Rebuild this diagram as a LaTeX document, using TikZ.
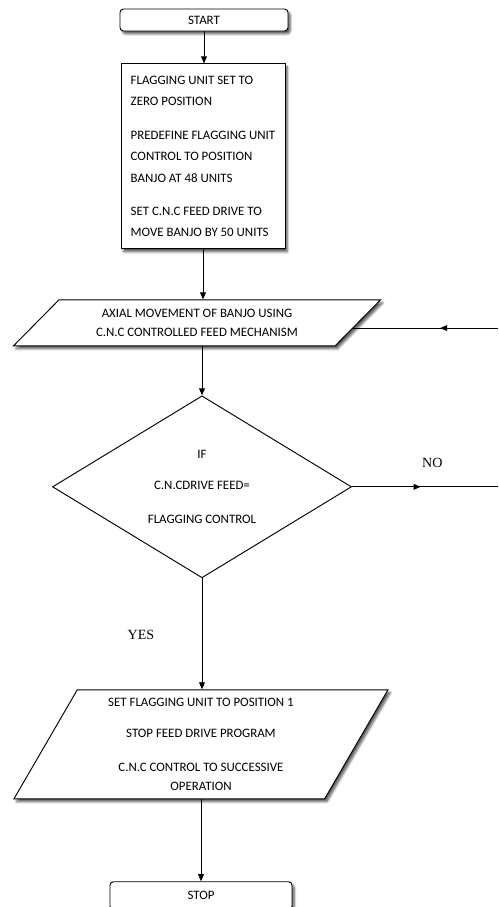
\documentclass[tikz,border=0pt]{standalone}
\usepackage{fontspec}
\setmainfont{Carlito}
\newfontfamily\tmsfont{Liberation Serif}
\usetikzlibrary{arrows.meta,positioning,calc,shapes.geometric,shadows.blur,decorations.markings}

\begin{document}
\begin{tikzpicture}[font=\fontsize{11}{13}\selectfont,
    shade/.style={blur shadow={shadow xshift=2pt,shadow yshift=-2.5pt,shadow blur steps=6,shadow opacity=65}},
    term/.style={draw,fill=white,rounded corners=3pt,line width=0.8pt,
      minimum width=5.04cm,minimum height=0.66cm,inner sep=1pt,shade},
    proc/.style={draw,fill=white,line width=0.8pt,minimum width=4.92cm,
      minimum height=5.55cm,align=left,font=\fontsize{11}{18.4}\selectfont,shade},
    io/.style={trapezium,trapezium stretches body,draw,fill=white,line width=0.8pt,
      align=center,inner sep=0pt,shade},
    ask/.style={diamond,draw,fill=white,line width=0.8pt,minimum width=8.97cm,
      minimum height=5.46cm,inner sep=0pt,align=center},
    lbl/.style={font=\tmsfont\fontsize{12}{14}\selectfont},
    midarrow/.style={decoration={markings,mark=at position #1 with {\arrow{Triangle[length=6pt,width=5pt]}}},
      postaction={decorate}},
    >={Triangle[length=6pt,width=5pt]}]
  \useasboundingbox (0,0) rectangle (14.94,-27.21);
  \coordinate (rim) at (14.94,0);

  \node[term] (start) at (6.12,-0.6) {START};
  \node[proc, below=0.96cm of start, xshift=-0.03cm] (setup) {FLAGGING UNIT SET TO\\ZERO POSITION\\[10pt]
    PREDEFINE FLAGGING UNIT\\CONTROL TO POSITION\\BANJO AT 48 UNITS\\[10pt]
    SET C.N.C FEED DRIVE TO\\MOVE BANJO BY 50 UNITS};
  \node[io, trapezium left angle=32, trapezium right angle=148, minimum width=11.01cm,
    minimum height=1.38cm, font=\fontsize{11}{17}\selectfont,
    below=1.5cm of setup, xshift=-0.18cm] (axial) {AXIAL MOVEMENT OF BANJO USING\\C.N.C CONTROLLED FEED MECHANISM};
  \node[ask, below=1.47cm of axial, xshift=0.15cm] (check) {IF\\[13pt]C.N.CDRIVE FEED=\\[16pt]FLAGGING CONTROL};
  \node[io, trapezium left angle=55.6, trapezium right angle=124.4, minimum width=11.22cm,
    minimum height=3.27cm, font=\fontsize{11}{16.2}\selectfont,
    below=3.33cm of check, xshift=-0.03cm] (result) {SET FLAGGING UNIT TO POSITION 1\\[10.3pt]
    STOP FEED DRIVE PROGRAM\\[12.8pt]C.N.C CONTROL TO SUCCESSIVE\\OPERATION};
  \node[term, minimum width=5.46cm, minimum height=0.84cm, below=2.46cm of result] (stop) {STOP};

  \coordinate (backin) at ($(axial.top right corner)!0.61!(axial.bottom right corner)$);

  \draw[->,line width=0.8pt] (start) -- (start |- setup.north);
  \draw[->,line width=0.8pt] (setup) -- (setup |- axial.north);
  \draw[->,line width=0.8pt] (check |- axial.south) -- (check);
  \draw[->,line width=0.8pt] (check) -- node[lbl,pos=0.51,left=1.3cm]{YES} (check |- result.north);
  \draw[->,line width=0.8pt] (stop |- result.south) -- (stop);
  \draw[line width=0.8pt,midarrow=0.47] (check.east) -- node[lbl,pos=0.55,above=0.45cm]{NO} (check.east -| rim);
  \draw[line width=0.8pt,midarrow=0.4] (backin -| rim) -- (backin);
\end{tikzpicture}
\end{document}
